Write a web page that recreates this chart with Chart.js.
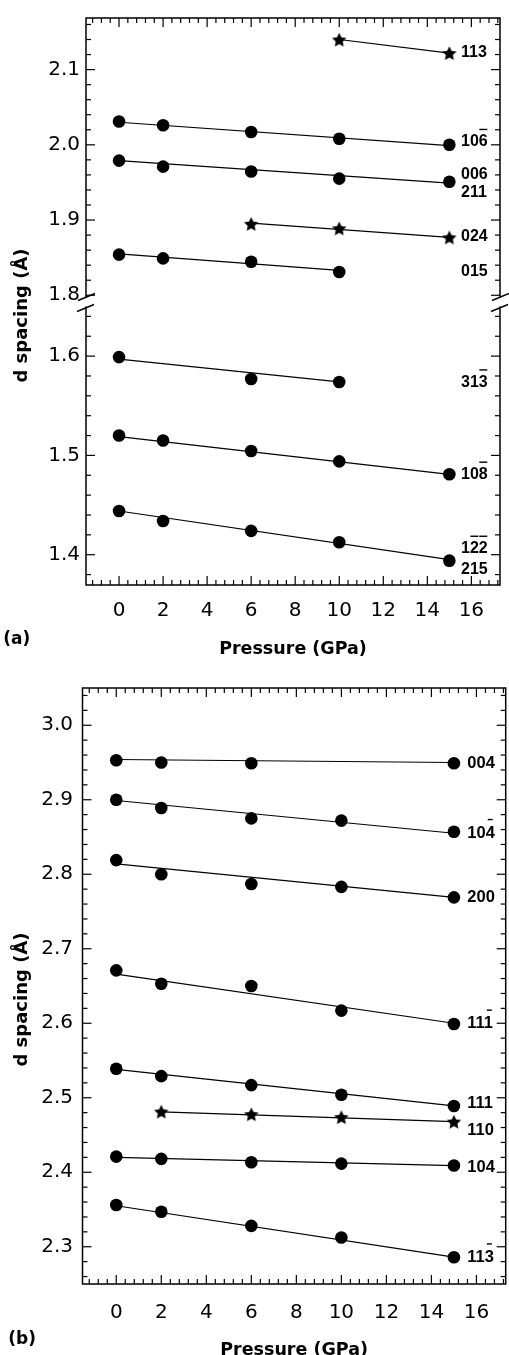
<!DOCTYPE html>
<html>
<head>
<meta charset="utf-8">
<script src="https://cdn.jsdelivr.net/npm/chart.js@4.4.1/dist/chart.umd.min.js"></script>
<style>
  html, body { margin: 0; padding: 0; background: #fff; overflow: hidden; width: 509px; height: 1355px; }
  canvas { display: block; position: absolute; left: 0; }
  #panelA { top: 0; }
  #panelB { top: 660px; }
</style>
</head>
<body>
<canvas id="panelA" width="509" height="660"></canvas>
<canvas id="panelB" width="512" height="695"></canvas>
<script>
// ticks
const xTicks = [0, 2, 4, 6, 8, 10, 12, 14, 16];
const yTicksATop = [1.8, 1.9, 2.0, 2.1];
const yTicksABot = [1.4, 1.5, 1.6];
const yTicksB = [2.3, 2.4, 2.5, 2.6, 2.7, 2.8, 2.9, 3.0];

// panel (a) - d spacing vs pressure, null = not measured
const pressA = [0, 2, 6, 10, 15];
const dA113 = [null, null, null, 2.140, 2.122];
const dA106 = [2.031, 2.026, 2.017, 2.008, 2.000];
const dA006 = [1.979, 1.971, 1.9645, 1.955, 1.951];
const dA024 = [null, null, 1.895, 1.889, 1.877];
const dA015 = [1.854, 1.849, 1.8445, 1.831, null];
const dA313 = [1.599, null, 1.577, 1.574, null];
const dA108 = [1.520, 1.515, 1.5045, 1.494, 1.481];
const dA122 = [1.444, 1.434, 1.424, 1.4125, 1.394];
const seriesA = [dA113, dA106, dA006, dA024, dA015, dA313, dA108, dA122];
const markA = ['star', 'circle', 'circle', 'star', 'circle', 'circle', 'circle', 'circle'];
// fitted line, value at first and last measured pressure
const fitStartA = [2.140, 2.030, 1.979, 1.896, 1.855, 1.597, 1.519, 1.444];
const fitEndA = [2.122, 1.999, 1.949, 1.877, 1.833, 1.574, 1.481, 1.395];
// reflection labels (bars = index of digits with overbar)
const labA = ['113', '106', '006', '211', '024', '015', '313', '108', '122', '215'];
const labBarA = [[], [2], [], [], [], [], [2], [2], [1, 2], []];
const labYA = [2.1227, 2.0038, 1.960, 1.936, 1.8776, 1.8317, 1.5735, 1.4806, 1.406, 1.385];

// panel (b)
const pressB = [0, 2, 6, 10, 15];
const dB004 = [2.953, 2.950, 2.949, null, 2.949];
const dB104n = [2.900, 2.889, 2.875, 2.872, 2.857];
const dB200 = [2.819, 2.800, 2.787, 2.783, 2.769];
const dB111n = [2.671, 2.653, 2.650, 2.617, 2.599];
const dB111 = [2.539, 2.529, 2.517, 2.504, 2.489];
const dB110 = [null, 2.4815, 2.478, 2.474, 2.468];
const dB104 = [2.421, 2.418, 2.4134, 2.4116, 2.409];
const dB113n = [2.356, 2.347, 2.328, 2.3124, 2.286];
const seriesB = [dB004, dB104n, dB200, dB111n, dB111, dB110, dB104, dB113n];
const markB = ['circle', 'circle', 'circle', 'circle', 'circle', 'star', 'circle', 'circle'];
const fitStartB = [2.954, 2.899, 2.814, 2.666, 2.538, 2.481, 2.420, 2.355];
const fitEndB = [2.950, 2.855, 2.769, 2.600, 2.489, 2.468, 2.409, 2.286];
const labB = ['004', '104', '200', '111', '111', '110', '104', '113'];
const labBarB = [[], [2], [], [2], [], [], [], [2]];
const labYB = [2.9487, 2.8553, 2.7694, 2.5995, 2.4917, 2.4561, 2.4058, 2.2857];

Chart.defaults.font.family = "'DejaVu Sans', sans-serif";
Chart.defaults.color = '#000';

// filled five point star for the point style
function makeStar(r) {
  const c = document.createElement('canvas');
  const size = Math.ceil(r * 2 + 2);
  c.width = size;
  c.height = size;
  const g = c.getContext('2d');
  g.translate(size / 2, size / 2 + r * 0.1);
  g.beginPath();
  for (let i = 0; i < 10; i++) {
    const rad = i % 2 ? r * 0.48 : r;
    const ang = -Math.PI / 2 + i * Math.PI / 5;
    g.lineTo(rad * Math.cos(ang), rad * Math.sin(ang));
  }
  g.closePath();
  g.fillStyle = '#000';
  g.fill();
  return c;
}
const star = makeStar(7.6);

function buildDatasets(press, series, marks, fit0, fit1, axisFor) {
  const sets = [];
  series.forEach((vals, i) => {
    const pts = [];
    vals.forEach((v, j) => { if (v !== null) pts.push({x: press[j], y: v}); });
    const axis = axisFor(vals);
    sets.push({
      data: [{x: pts[0].x, y: fit0[i]}, {x: pts[pts.length - 1].x, y: fit1[i]}],
      yAxisID: axis, showLine: true, borderColor: '#000', borderWidth: 1.2, pointRadius: 0
    });
    sets.push({
      data: pts, yAxisID: axis, showLine: false,
      pointStyle: marks[i] === 'star' ? star : 'circle',
      pointRadius: 6.3, backgroundColor: '#000', borderColor: '#000', borderWidth: 0
    });
  });
  return sets;
}

// frame, inward ticks, axis break, labels and titles
const framePlugin = {
  id: 'frame',
  afterDraw(chart, args, o) {
    const {ctx, chartArea: a, scales} = chart;
    ctx.save();
    ctx.strokeStyle = '#000';
    ctx.fillStyle = '#000';
    ctx.lineWidth = 1.2;
    const line = (x1, y1, x2, y2) => { ctx.beginPath(); ctx.moveTo(x1, y1); ctx.lineTo(x2, y2); ctx.stroke(); };

    const xs = scales.x;
    for (let k = Math.ceil(xs.min / 0.4); k * 0.4 <= xs.max; k++) {
      const v = k * 0.4;
      const len = Math.abs(v / 2 - Math.round(v / 2)) < 1e-6 ? 9 : 5;
      const px = xs.getPixelForValue(v);
      line(px, a.bottom, px, a.bottom - len);
      line(px, a.top, px, a.top + len);
    }
    o.yAxes.forEach(id => {
      const ys = scales[id];
      for (let k = Math.ceil(ys.min / 0.02 - 1e-6); k * 0.02 <= ys.max + 1e-9; k++) {
        const v = k * 0.02;
        const len = Math.abs(v * 10 - Math.round(v * 10)) < 1e-6 ? 9 : 5;
        const py = ys.getPixelForValue(v);
        line(a.left, py, a.left + len, py);
        line(a.right, py, a.right - len, py);
      }
    });

    ctx.lineWidth = 1.5;
    ctx.strokeRect(a.left, a.top, a.width, a.height);

    if (o.breakAt) {
      const yb = scales[o.breakAt].bottom;
      [a.left, a.right].forEach(x => {
        ctx.fillStyle = '#fff';
        ctx.fillRect(x - 3, yb - 4, 6, 9);
        ctx.lineWidth = 1.4;
        line(x - 8, yb - 1, x + 9, yb - 8);
        line(x - 9, yb + 10, x + 8, yb + 3);
      });
      ctx.fillStyle = '#000';
    }

    // reflection labels
    ctx.font = 'bold ' + o.labelSize + 'px "Liberation Sans"';
    ctx.textBaseline = 'middle';
    ctx.textAlign = 'left';
    ctx.lineWidth = 1.4;
    const x0 = xs.getPixelForValue(15) + o.labelDx;
    o.labels.forEach(l => {
      const y = scales[l.axis].getPixelForValue(l.y);
      ctx.fillText(l.text, x0, y);
      l.bars.forEach(b => {
        const bx = x0 + ctx.measureText(l.text.slice(0, b)).width;
        const w = ctx.measureText(l.text[b]).width;
        const inset = w * (1 - o.barFrac) / 2;
        line(bx + inset, y - o.barLift, bx + w - inset, y - o.barLift);
      });
    });

    // axis titles and panel letter
    ctx.textBaseline = 'alphabetic';
    ctx.font = 'bold 17.5px "DejaVu Sans"';
    ctx.textAlign = 'center';
    ctx.fillText('Pressure (GPa)', (a.left + a.right) / 2, o.xTitleY);
    ctx.save();
    ctx.translate(o.yTitleX, (a.top + a.bottom) / 2 + o.yTitleShift);
    ctx.rotate(-Math.PI / 2);
    ctx.font = 'bold 18px "DejaVu Sans"';
    ctx.fillText('d spacing (Å)', 0, 0);
    ctx.restore();
    ctx.textAlign = 'left';
    ctx.font = 'bold 17px "DejaVu Sans"';
    ctx.fillText(o.letter, o.letterX, o.letterY);
    ctx.restore();
  }
};

function yScale(ticks, min, max, pad, extra) {
  return Object.assign({
    type: 'linear', position: 'left', min, max,
    grid: {display: false, drawTicks: false}, border: {display: false},
    afterBuildTicks: s => { s.ticks = ticks.map(v => ({value: v})); },
    ticks: {font: {size: 20}, color: '#000', padding: pad, autoSkip: false, callback: v => v.toFixed(1)}
  }, extra);
}

function xScale(height, pad) {
  return {
    type: 'linear', position: 'bottom', min: -1.5, max: 17.3,
    grid: {display: false, drawTicks: false}, border: {display: false},
    afterBuildTicks: s => { s.ticks = xTicks.map(v => ({value: v})); },
    afterFit: s => { s.height = height; },
    ticks: {font: {size: 20}, color: '#000', padding: pad, autoSkip: false, maxRotation: 0}
  };
}

const chartA = new Chart(document.getElementById('panelA'), {
  type: 'scatter',
  data: {datasets: buildDatasets(pressA, seriesA, markA, fitStartA, fitEndA,
    vals => (vals.find(v => v !== null) > 1.7 ? 'yTop' : 'yBot'))},
  options: {
    responsive: false, animation: false, events: [],
    layout: {padding: {top: 11, right: 9, left: 0, bottom: 0}},
    scales: {
      x: xScale(75, 14),
      // stacked left axes, the first one listed ends up at the bottom
      yBot: yScale(yTicksABot, 1.3695, 1.655, 6, {stack: 'a', stackWeight: 1, afterFit: s => { s.width = 86; }}),
      yTop: yScale(yTicksATop, 1.7917, 2.1686, 6, {stack: 'a', stackWeight: 1, afterFit: s => { s.width = 86; }})
    },
    plugins: {
      legend: {display: false}, tooltip: {enabled: false},
      frame: {
        yAxes: ['yTop', 'yBot'], breakAt: 'yTop',
        labels: labA.map((t, i) => ({text: t, bars: labBarA[i], y: labYA[i], axis: labYA[i] > 1.7 ? 'yTop' : 'yBot'})),
        labelDx: 11.7, labelSize: 16, barLift: 12.5, barFrac: 0.9,
        xTitleY: 653.5, yTitleX: 26.5, yTitleShift: 14,
        letter: '(a)', letterX: 3.3, letterY: 643.5
      }
    }
  },
  plugins: [framePlugin]
});

const chartB = new Chart(document.getElementById('panelB'), {
  type: 'scatter',
  data: {datasets: buildDatasets(pressB, seriesB, markB, fitStartB, fitEndB, () => 'y')},
  options: {
    responsive: false, animation: false, events: [],
    layout: {padding: {top: 28, right: 1, left: 0, bottom: 0}},
    scales: {
      x: xScale(71, 17),
      y: yScale(yTicksB, 2.25, 3.05, 9.5, {afterFit: s => { s.width = 82.5; }})
    },
    plugins: {
      legend: {display: false}, tooltip: {enabled: false},
      frame: {
        yAxes: ['y'], breakAt: null,
        labels: labB.map((t, i) => ({text: t, bars: labBarB[i], y: labYB[i], axis: 'y'})),
        labelDx: 13.4, labelSize: 16.5, barLift: 13.5, barFrac: 0.55,
        xTitleY: 694.5, yTitleX: 26.5, yTitleShift: 13.5,
        letter: '(b)', letterX: 8.3, letterY: 684
      }
    }
  },
  plugins: [framePlugin]
});
</script>
</body>
</html>
